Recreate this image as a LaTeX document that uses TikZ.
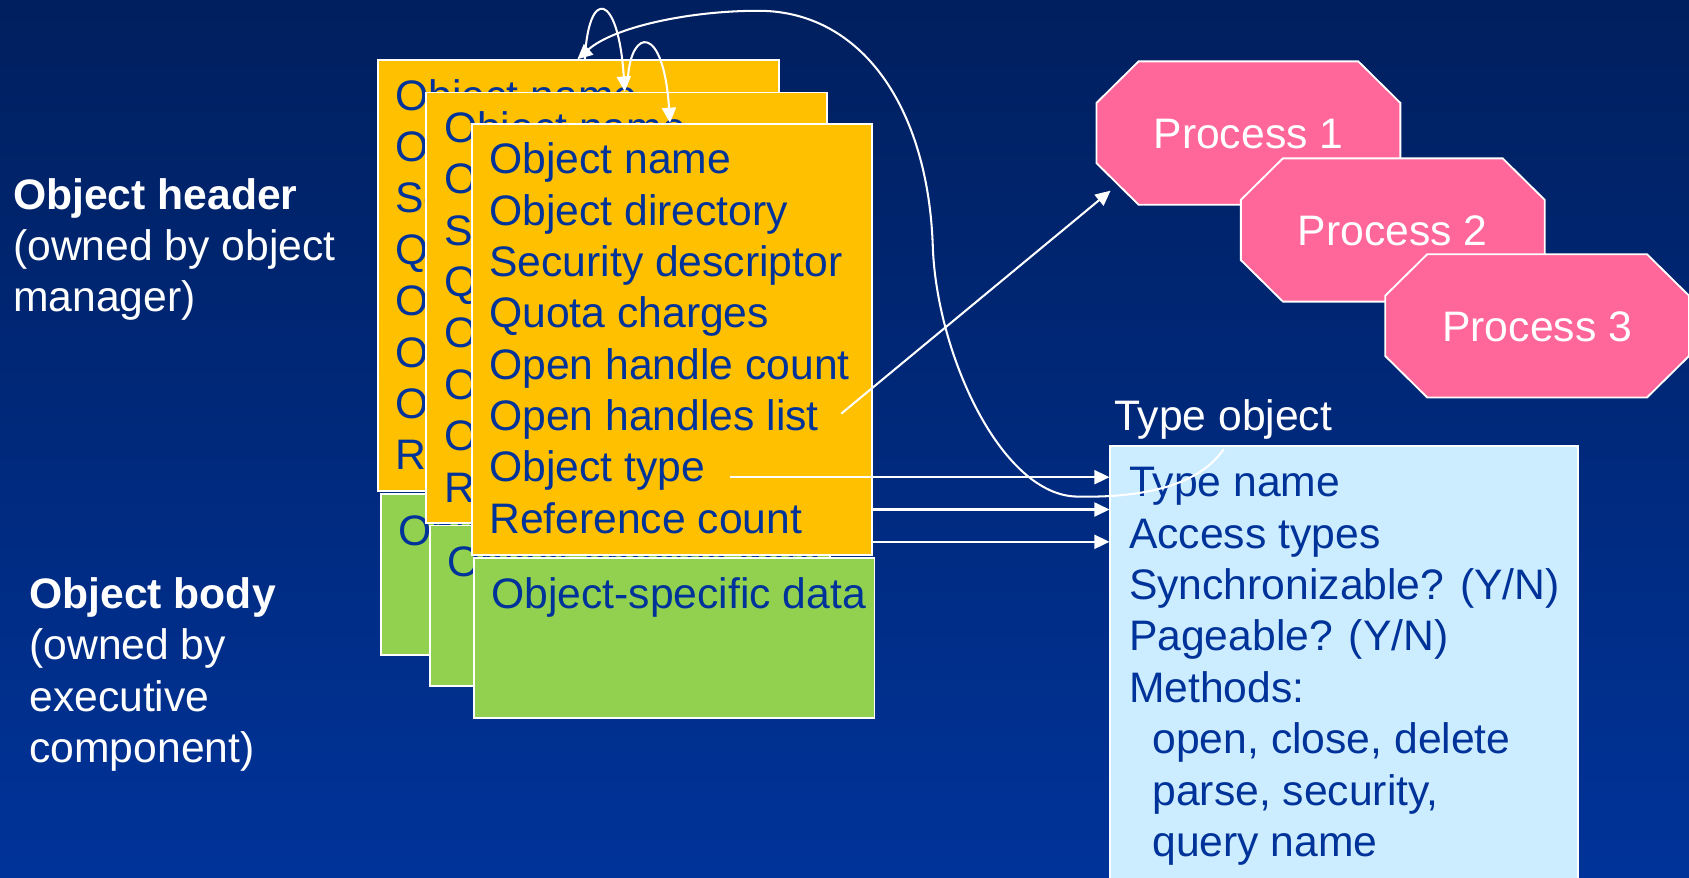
\documentclass[tikz,border=0pt]{standalone}
\usepackage{fontspec}
\setmainfont{Liberation Sans}
\usetikzlibrary{arrows.meta}

\definecolor{bgtop}{RGB}{0,31,94}
\definecolor{bgbot}{RGB}{0,51,153}
\definecolor{hdrorange}{RGB}{255,192,0}
\definecolor{bodygreen}{RGB}{146,208,80}
\definecolor{typeblue}{RGB}{204,236,255}
\definecolor{procpink}{RGB}{255,102,153}
\definecolor{inkblue}{RGB}{0,51,153}

\tikzset{
  hdrbox/.style={draw=white, line width=1.7pt, fill=hdrorange, anchor=north west,
    inner sep=0pt, minimum width=372pt, minimum height=400pt},
  bodybox/.style={draw=white, line width=1.7pt, fill=bodygreen, anchor=north west,
    inner sep=0pt, minimum width=372pt, minimum height=149pt},
  typebox/.style={draw=white, line width=1.7pt, fill=typeblue, anchor=north west,
    inner sep=0pt, minimum width=434pt, minimum height=430pt},
  boxtext/.style={anchor=north west, inner sep=0pt, align=left, text=inkblue,
    font=\fontsize{39.6}{47.7}\selectfont},
  labeltext/.style={anchor=north west, inner sep=0pt, align=left, text=white,
    font=\fontsize{39.6}{47.5}\selectfont},
  proc/.style={draw=white, line width=1.7pt, fill=procpink},
  proclabel/.style={anchor=base, inner sep=0pt, text=white,
    font=\fontsize{39.6}{47}\selectfont},
  link/.style={draw=white, line width=1.9pt, -{Triangle[length=14pt,width=13pt]}}
}

% octagon with cut corners, given its left and top edges
\newcommand{\procshape}[2]{%
  \filldraw[proc] ({#1+39},{#2}) -- ({#1+243},{#2}) -- ({#1+282},{#2+38.5})
    -- ({#1+282},{#2+94.5}) -- ({#1+243},{#2+133}) -- ({#1+39},{#2+133})
    -- ({#1},{#2+94.5}) -- ({#1},{#2+38.5}) -- cycle;}

\newcommand{\hdrlist}{\rule{0pt}{31pt}Object name\\Object directory\\Security descriptor\\Quota charges\\Open handle count\\Open handles list\\Object type\\Reference count}
\newcommand{\bodylabel}{\rule{0pt}{31pt}Object-specific data}

\begin{document}
\begin{tikzpicture}[x=1pt, y=-1pt]
\useasboundingbox (0,0) rectangle (1568,815);
\clip (0,0) rectangle (1568,815);
\shade[top color=bgtop, bottom color=bgbot] (0,0) rectangle (1568,815);

% captions on the left
\node[labeltext] (hdrcap) at (12,163) {\rule{0pt}{31pt}\textbf{Object header}\\(owned by object\\manager)};
\node[labeltext] (bodycap) at (27,534) {\rule{0pt}{31pt}\textbf{Object body}\\(owned by\\executive\\component)};

% stacked objects: header and body of each
\node[hdrbox] (o1) at (350,55) {};
\node[boxtext] (o1t) at (367,71) {\hdrlist};
\node[bodybox] (g1) at (353,458) {};
\node[boxtext] (g1t) at (370,475) {\bodylabel};

\node[hdrbox] (o2) at (395,85) {};
\node[boxtext] (o2t) at (412,101) {\hdrlist};
\node[bodybox] (g2) at (398,487) {};
\node[boxtext] (g2t) at (415,504) {\bodylabel};

\node[hdrbox] (o3) at (437,114) {};
\node[boxtext] (o3t) at (454,130) {\hdrlist};
\node[bodybox] (g3) at (439,517) {};
\node[boxtext] (g3t) at (456,534) {\bodylabel};

% processes
\procshape{1018}{57}
\node[proclabel] (p1) at (1159,138) {Process 1};
\procshape{1152}{147}
\node[proclabel] (p2) at (1293,228) {Process 2};
\procshape{1286}{236}
\node[proclabel] (p3) at (1427,317) {Process 3};

% type object
\node[labeltext] (tcap) at (1034,368) {\rule{0pt}{31pt}Type object};
\node[typebox] (tb) at (1030,413) {};
\node[boxtext] (tbt) at (1048,430) {\rule{0pt}{31pt}Type name\\Access types\\Synchronizable? (Y/N)\\Pageable? (Y/N)\\Methods:\\\hspace*{21.7pt}open, close, delete\\\hspace*{21.7pt}parse, security,\\\hspace*{21.7pt}query name};

% connectors
\coordinate (hl) at (781,384);
\coordinate (p1tip) at (1031,177);
\draw[link] (hl) -- (p1tip);

\coordinate (ot) at (678,443);
\coordinate (rc) at (810,473);
\coordinate (bq) at (810,503);
\draw[link] (ot) -- (ot -| tb.west);
\draw[link] (rc) -- (rc -| tb.west);
\draw[link] (bq) -- (bq -| tb.west);

\draw[link] ([xshift=106pt,yshift=-4pt]tb.north west)
  .. controls (1110,455) and (1050,462) .. (1000,461)
  .. controls (930,460) and (870,330) .. (866,230)
  .. controls (862,100) and (800,10) .. (704,10)
  .. controls (640,10) and (570,25) .. ([xshift=186pt]o1.north west);

\draw[link] ([xshift=193pt]o1.north west)
  .. controls (546,-12) and (574,-8) .. ([xshift=185pt]o2.north west);
\draw[link] ([xshift=188pt,yshift=13pt]o2.north west)
  .. controls (586,26) and (616,22) .. ([xshift=185pt]o3.north west);
\end{tikzpicture}
\end{document}
